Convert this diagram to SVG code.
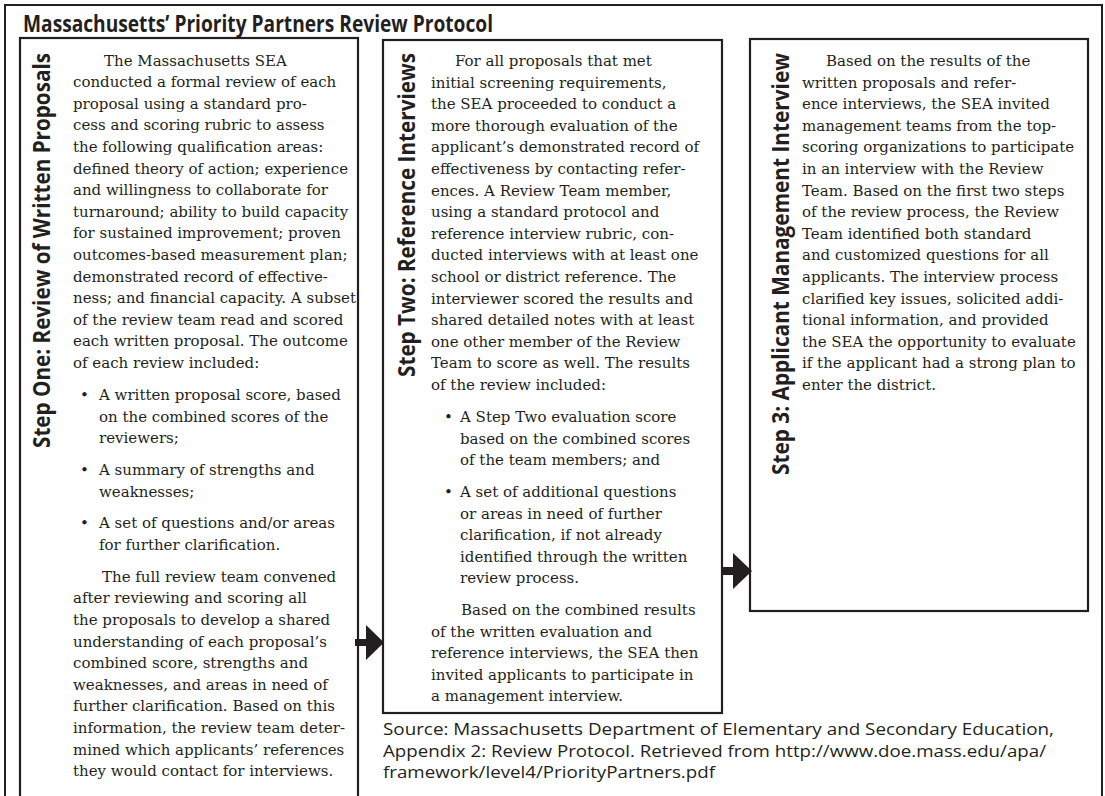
<svg xmlns="http://www.w3.org/2000/svg" width="1105" height="796" viewBox="0 0 1105 796">
<style>
.frame{fill:#fff;stroke:#231f20;stroke-width:2}
.box{fill:#fff;stroke:#231f20;stroke-width:2.2}
.title{font-family:"Open Sans","Liberation Sans",sans-serif;font-weight:bold;font-size:23px;fill:#231f20}
.lbl{font-family:"Open Sans","Liberation Sans",sans-serif;font-weight:bold;font-size:23px;fill:#231f20}
.body{font-family:"DejaVu Serif","Liberation Serif",serif;font-size:15px;fill:#231f20}
.src{font-family:"Open Sans","Liberation Sans",sans-serif;font-size:16.5px;fill:#231f20}
.arrow{fill:#231f20}
</style>
<rect width="1105" height="796" fill="#fff"/>
<rect id="frame" class="frame" x="5" y="5" width="1097" height="820"/>
<text id="title" class="title" x="23" y="32" textLength="470" lengthAdjust="spacingAndGlyphs">Massachusetts’ Priority Partners Review Protocol</text>

<g id="step1">
<rect class="box" x="20" y="38" width="338" height="790"/>
<text class="lbl" transform="translate(50,448) rotate(-90)" textLength="395" lengthAdjust="spacingAndGlyphs">Step One: Review of Written Proposals</text>
<text class="body">
<tspan x="104" y="65.5">The Massachusetts SEA</tspan>
<tspan x="73" y="87.1">conducted a formal review of each</tspan>
<tspan x="73" y="108.7">proposal using a standard pro-</tspan>
<tspan x="73" y="130.3">cess and scoring rubric to assess</tspan>
<tspan x="73" y="151.9">the following qualification areas:</tspan>
<tspan x="73" y="173.5">defined theory of action; experience</tspan>
<tspan x="73" y="195.1">and willingness to collaborate for</tspan>
<tspan x="73" y="216.7">turnaround; ability to build capacity</tspan>
<tspan x="73" y="238.3">for sustained improvement; proven</tspan>
<tspan x="73" y="259.9">outcomes-based measurement plan;</tspan>
<tspan x="73" y="281.5">demonstrated record of effective-</tspan>
<tspan x="73" y="303.1">ness; and financial capacity. A subset</tspan>
<tspan x="73" y="324.7">of the review team read and scored</tspan>
<tspan x="73" y="346.3">each written proposal. The outcome</tspan>
<tspan x="73" y="367.9">of each review included:</tspan>
<tspan x="80" y="400">•</tspan>
<tspan x="99" y="400">A written proposal score, based</tspan>
<tspan x="99" y="421.6">on the combined scores of the</tspan>
<tspan x="99" y="443.2">reviewers;</tspan>
<tspan x="80" y="475">•</tspan>
<tspan x="99" y="475">A summary of strengths and</tspan>
<tspan x="99" y="496.6">weaknesses;</tspan>
<tspan x="80" y="528.4">•</tspan>
<tspan x="99" y="528.4">A set of questions and/or areas</tspan>
<tspan x="99" y="550">for further clarification.</tspan>
<tspan x="102" y="581.8">The full review team convened</tspan>
<tspan x="73" y="603.4">after reviewing and scoring all</tspan>
<tspan x="73" y="625">the proposals to develop a shared</tspan>
<tspan x="73" y="646.6">understanding of each proposal’s</tspan>
<tspan x="73" y="668.2">combined score, strengths and</tspan>
<tspan x="73" y="689.8">weaknesses, and areas in need of</tspan>
<tspan x="73" y="711.4">further clarification. Based on this</tspan>
<tspan x="73" y="733">information, the review team deter-</tspan>
<tspan x="73" y="754.6">mined which applicants’ references</tspan>
<tspan x="73" y="776.2">they would contact for interviews.</tspan>
</text>
</g>

<g id="step2">
<rect class="box" x="383" y="40" width="339" height="673"/>
<text class="lbl" transform="translate(415,377) rotate(-90)" textLength="324" lengthAdjust="spacingAndGlyphs">Step Two: Reference Interviews</text>
<text class="body">
<tspan x="455" y="66">For all proposals that met</tspan>
<tspan x="431" y="87.6">initial screening requirements,</tspan>
<tspan x="431" y="109.2">the SEA proceeded to conduct a</tspan>
<tspan x="431" y="130.8">more thorough evaluation of the</tspan>
<tspan x="431" y="152.4">applicant’s demonstrated record of</tspan>
<tspan x="431" y="174">effectiveness by contacting refer-</tspan>
<tspan x="431" y="195.6">ences. A Review Team member,</tspan>
<tspan x="431" y="217.2">using a standard protocol and</tspan>
<tspan x="431" y="238.8">reference interview rubric, con-</tspan>
<tspan x="431" y="260.4">ducted interviews with at least one</tspan>
<tspan x="431" y="282">school or district reference. The</tspan>
<tspan x="431" y="303.6">interviewer scored the results and</tspan>
<tspan x="431" y="325.2">shared detailed notes with at least</tspan>
<tspan x="431" y="346.8">one other member of the Review</tspan>
<tspan x="431" y="368.4">Team to score as well. The results</tspan>
<tspan x="431" y="390">of the review included:</tspan>
<tspan x="444" y="422">•</tspan>
<tspan x="460" y="422">A Step Two evaluation score</tspan>
<tspan x="460" y="443.6">based on the combined scores</tspan>
<tspan x="460" y="465.2">of the team members; and</tspan>
<tspan x="444" y="497">•</tspan>
<tspan x="460" y="497">A set of additional questions</tspan>
<tspan x="460" y="518.6">or areas in need of further</tspan>
<tspan x="460" y="540.2">clarification, if not already</tspan>
<tspan x="460" y="561.8">identified through the written</tspan>
<tspan x="460" y="583.4">review process.</tspan>
<tspan x="461" y="615">Based on the combined results</tspan>
<tspan x="431" y="636.6">of the written evaluation and</tspan>
<tspan x="431" y="658.2">reference interviews, the SEA then</tspan>
<tspan x="431" y="679.8">invited applicants to participate in</tspan>
<tspan x="431" y="701.4">a management interview.</tspan>
</text>
</g>

<g id="step3">
<rect class="box" x="750" y="39" width="338" height="572"/>
<text class="lbl" transform="translate(789,475) rotate(-90)" textLength="422" lengthAdjust="spacingAndGlyphs">Step 3: Applicant Management Interview</text>
<text class="body">
<tspan x="826" y="66">Based on the results of the</tspan>
<tspan x="802" y="87.6">written proposals and refer-</tspan>
<tspan x="802" y="109.2">ence interviews, the SEA invited</tspan>
<tspan x="802" y="130.8">management teams from the top-</tspan>
<tspan x="802" y="152.4">scoring organizations to participate</tspan>
<tspan x="802" y="174">in an interview with the Review</tspan>
<tspan x="802" y="195.6">Team. Based on the first two steps</tspan>
<tspan x="802" y="217.2">of the review process, the Review</tspan>
<tspan x="802" y="238.8">Team identified both standard</tspan>
<tspan x="802" y="260.4">and customized questions for all</tspan>
<tspan x="802" y="282">applicants. The interview process</tspan>
<tspan x="802" y="303.6">clarified key issues, solicited addi-</tspan>
<tspan x="802" y="325.2">tional information, and provided</tspan>
<tspan x="802" y="346.8">the SEA the opportunity to evaluate</tspan>
<tspan x="802" y="368.4">if the applicant had a strong plan to</tspan>
<tspan x="802" y="390">enter the district.</tspan>
</text>
</g>

<g id="connectors">
<path class="arrow" d="M355,639 H366 V625 L384,642.5 L366,660 V646 H355 Z"/>
<path class="arrow" d="M722,567 H733 V553 L752,571 L733,589 V575 H722 Z"/>
</g>

<g id="source">
<text class="src" x="383" y="735" textLength="671" lengthAdjust="spacingAndGlyphs">Source: Massachusetts Department of Elementary and Secondary Education,</text>
<text class="src" x="383" y="757" textLength="663" lengthAdjust="spacingAndGlyphs">Appendix 2: Review Protocol. Retrieved from http://www.doe.mass.edu/apa/</text>
<text class="src" x="383" y="778" textLength="332" lengthAdjust="spacingAndGlyphs">framework/level4/PriorityPartners.pdf</text>
</g>
</svg>
